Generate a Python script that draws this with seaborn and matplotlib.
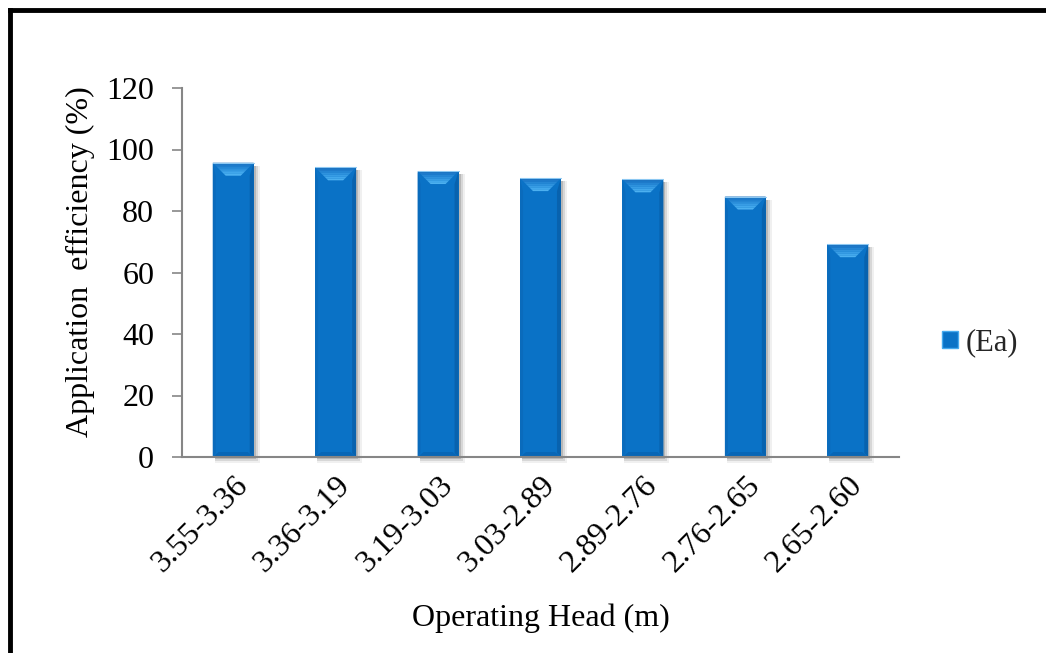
import numpy as np
import pandas as pd
import matplotlib
matplotlib.use("Agg")
import matplotlib.pyplot as plt
from matplotlib.patches import Polygon, Patch
from matplotlib.lines import Line2D
import seaborn as sns

# Operating head ranges and measured application efficiency
head_ranges = ["3.55-3.36", "3.36-3.19", "3.19-3.03", "3.03-2.89",
               "2.89-2.76", "2.76-2.65", "2.65-2.60"]
efficiency = [95.7, 94.2, 93.0, 90.7, 90.3, 84.7, 69.2]
series_name = "(Ea)"
y_ticks = [0, 20, 40, 60, 80, 100, 120]

df = pd.DataFrame({"head": head_ranges, "ea": efficiency})

sns.set_theme(style="white")
plt.rcParams["font.family"] = ["Liberation Serif", "DejaVu Serif"]

W, H = 1046, 653
fig = plt.figure(figsize=(W / 100, H / 100), dpi=100)
fig.patch.set_facecolor("white")

ax_l, ax_r, ax_t, ax_b = 182, 899, 88, 457
ax = fig.add_axes([ax_l / W, 1 - ax_b / H, (ax_r - ax_l) / W, (ax_b - ax_t) / H])

body = "#0A72C6"
sns.barplot(data=df, x="head", y="ea", color=body, saturation=1, width=0.40,
            ax=ax, zorder=3)

ax.set_xlim(-0.5, len(head_ranges) - 0.5)
ax.set_ylim(0, 120)
ax.set_yticks(y_ticks)

# pixel -> data scale for the bevel decoration
sx = len(head_ranges) / (ax_r - ax_l)
sy = 120 / (ax_b - ax_t)

for p in ax.patches:
    x0, w, h = p.get_x(), p.get_width(), p.get_height()
    p.set_edgecolor("none")
    bx, by = 13 * sx, 13 * sy
    # soft shadow to the lower right
    for k, a in zip([6, 4, 2], [0.06, 0.10, 0.14]):
        sh = Polygon([(x0 + 2 * sx, -k * sy), (x0 + w + k * sx, -k * sy),
                      (x0 + w + k * sx, h - 3 * sy), (x0 + 2 * sx, h - 3 * sy)],
                     closed=True, facecolor="black", alpha=a, edgecolor="none",
                     zorder=2, clip_on=False)
        ax.add_patch(sh)
    # right and left edge shading
    ax.add_patch(Polygon([(x0 + w, h), (x0 + w - 4 * sx, h - by),
                          (x0 + w - 4 * sx, 4 * sy), (x0 + w, 0)],
                         closed=True, facecolor="#0862AE", edgecolor="none", zorder=4))
    ax.add_patch(Polygon([(x0, h), (x0 + 3 * sx, h - by),
                          (x0 + 3 * sx, 4 * sy), (x0, 0)],
                         closed=True, facecolor="#0A6BBC", edgecolor="none", zorder=4))
    # bottom bevel, faint
    ax.add_patch(Polygon([(x0, 0), (x0 + w, 0), (x0 + w - 6 * sx, 5 * sy), (x0 + 6 * sx, 5 * sy)],
                         closed=True, facecolor="#0866B6", edgecolor="none", zorder=4))
    # top bevel as stacked bands (dark at the rim, light at the inner edge)
    cols = ["#1870C0", "#1E7ACA", "#2586D4", "#2E92DD", "#389DE5", "#42A8EC", "#4CB0F0"]
    n = len(cols)
    for i, c in enumerate(cols):
        f0, f1 = i / n, (i + 1) / n
        ax.add_patch(Polygon([(x0 + bx * f0, h - by * f0), (x0 + w - bx * f0, h - by * f0),
                              (x0 + w - bx * f1, h - by * f1), (x0 + bx * f1, h - by * f1)],
                             closed=True, facecolor=c, edgecolor="none", zorder=5))
    ax.plot([x0, x0 + w], [h, h], color="#8CC8F2", lw=0.8, zorder=6)

# axes styling
spine_c = "#868686"
for s in ["top", "right"]:
    ax.spines[s].set_visible(False)
for s in ["left", "bottom"]:
    ax.spines[s].set_color(spine_c)
    ax.spines[s].set_linewidth(1.5)
    ax.spines[s].set_zorder(7)
ax.tick_params(axis="y", direction="out", length=7, width=1.2, color=spine_c,
               left=True, labelsize=23, pad=13, labelcolor="black")
ax.tick_params(axis="x", bottom=False, labelsize=23, labelcolor="black", pad=4)
ax.grid(False)

for lbl in ax.get_xticklabels():
    lbl.set_rotation(45)
    lbl.set_ha("right")
    lbl.set_va("top")
    lbl.set_rotation_mode("anchor")

ax.set_xlabel("Operating Head (m)", fontsize=23, color="black")
ax.xaxis.set_label_coords(0.5, -(618 - ax_b) / (ax_b - ax_t))
ax.xaxis.label.set_va("center")
ax.set_ylabel("Application  efficiency (%)", fontsize=23, color="black")
ax.yaxis.set_label_coords(-(ax_l - 80) / (ax_r - ax_l), (ax_b - 262) / (ax_b - ax_t))
ax.yaxis.label.set_va("center")

# legend
handle = Patch(facecolor=body, edgecolor="#46AAEE", linewidth=1.0)
fig.legend(handles=[handle], labels=[series_name], loc="center left",
           bbox_to_anchor=(930 / W, 1 - 343 / H), frameon=False, fontsize=22,
           handlelength=0.5, handleheight=0.5, handletextpad=0.25, borderaxespad=0)

# outer frame (open at right and bottom edges)
fig.add_artist(Line2D([9.5 / W, 9.5 / W], [0, 1 - 9.5 / H], transform=fig.transFigure,
                      color="black", lw=3.5, solid_capstyle="projecting"))
fig.add_artist(Line2D([9.5 / W, 1], [1 - 9.5 / H, 1 - 9.5 / H], transform=fig.transFigure,
                      color="black", lw=3.5, solid_capstyle="projecting"))

fig.savefig("out.png", dpi=100, facecolor="white")
